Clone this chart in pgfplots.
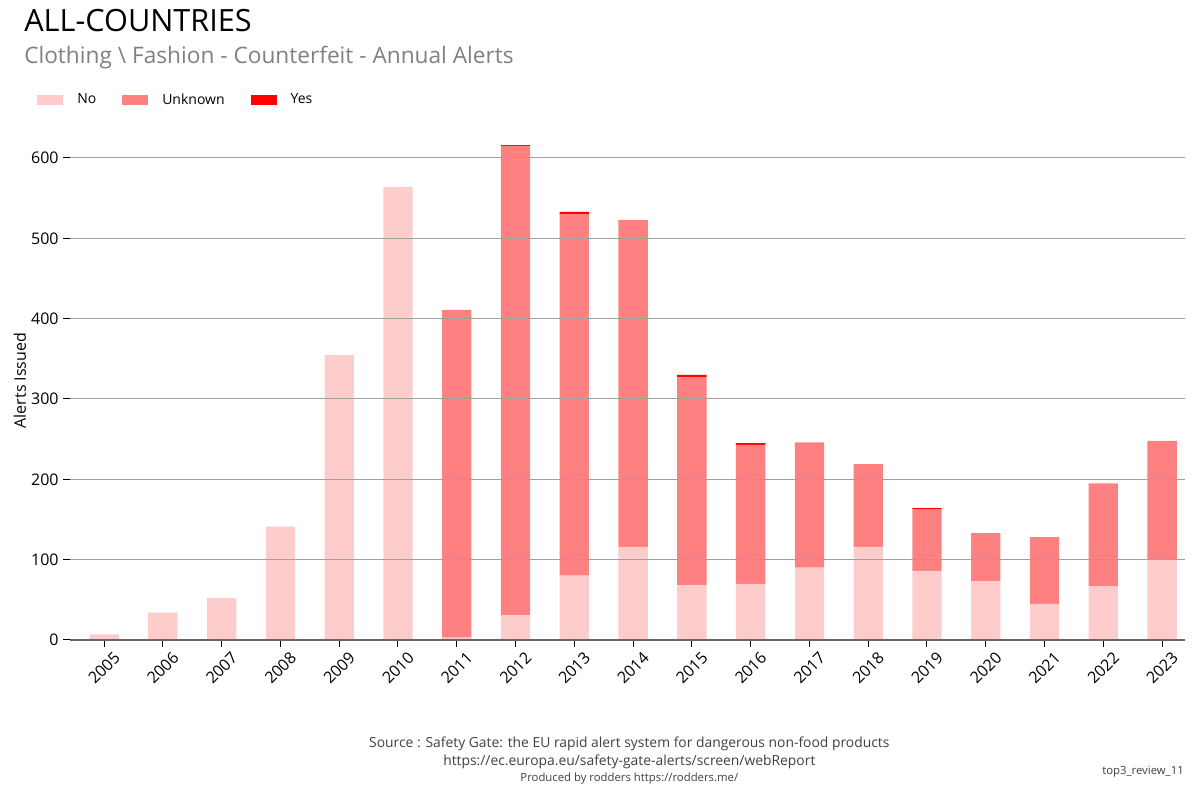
\documentclass[border=0pt]{standalone}
\usepackage{fontspec}
\setmainfont{Open Sans}
\usepackage{pgfplots}
\pgfplotsset{compat=1.18}

\definecolor{cNo}{HTML}{FFCCCC}
\definecolor{cUnk}{HTML}{FF8080}
\definecolor{cYes}{HTML}{FF0000}
\definecolor{gridgray}{HTML}{A0A0A0}
\definecolor{srcgray}{HTML}{404040}

\begin{document}
\begin{tikzpicture}
\useasboundingbox (0,0) rectangle (900pt,600pt);
\begin{axis}[
    at={(52.5pt,120pt)}, anchor=south west,
    scale only axis, width=836.25pt, height=389.25pt,
    ybar stacked, bar width=22pt,
    xmin=-0.58, xmax=18.39, ymin=0, ymax=646,
    xtick={0,...,18},
    xticklabels={2005,2006,2007,2008,2009,2010,2011,2012,2013,2014,2015,2016,2017,2018,2019,2020,2021,2022,2023},
    ytick={0,100,...,600},
    ymajorgrids, grid style={gridgray, line width=0.75pt},
    axis on top,
    axis x line*=bottom, axis y line*=left,
    x axis line style={draw=gray!80!black, line width=0.9pt, -},
    y axis line style={draw=none},
    tick style={black, line width=0.75pt},
    tick align=outside, major tick length=5pt,
    /pgf/number format/assume math mode=true,
    ticklabel style={font=\fontsize{12}{14}\selectfont},
    xticklabel style={rotate=45, anchor=center},
    xticklabel shift=16pt,
    ylabel={Alerts Issued}, ylabel style={font=\fontsize{12}{14}\selectfont},
    ylabel shift=-3pt,
    legend style={at={(-0.0296,1.0405)}, anchor=west, draw=none, fill=none,
        inner sep=0pt, legend columns=3, font=\fontsize{10.5}{12}\selectfont,
        /tikz/every odd column/.append style={column sep=8.5pt},
        /tikz/every even column/.append style={column sep=17.5pt}},
    legend image code/.code={\fill[#1, draw=none] (0pt,-3.75pt) rectangle (19.5pt,3.75pt);},
]
\addplot[fill=cNo, draw=none] coordinates {
(0,7) (1,34) (2,52) (3,141) (4,355) (5,564) (6,3) (7,31) (8,80) (9,116)
(10,68) (11,70) (12,90) (13,116) (14,86) (15,73) (16,45) (17,67) (18,100)};
\addplot[fill=cUnk, draw=none] coordinates {
(0,0) (1,0) (2,0) (3,0) (4,0) (5,0) (6,408) (7,584) (8,450) (9,407)
(10,259) (11,173) (12,156) (13,103) (14,77) (15,60) (16,83) (17,128) (18,148)};
\addplot[fill=cYes, draw=none] coordinates {
(0,0) (1,0) (2,0) (3,0) (4,0) (5,0) (6,0) (7,1) (8,3) (9,0)
(10,3) (11,2) (12,0) (13,0) (14,1) (15,0) (16,0) (17,0) (18,0)};
\legend{No,Unknown,Yes}
\end{axis}
\node[anchor=base west, inner sep=0pt, font=\fontsize{23}{27}\selectfont] at (18pt,576pt) {ALL-COUNTRIES};
\node[anchor=base west, inner sep=0pt, text=gray, font=\fontsize{17}{20}\selectfont] at (18pt,552pt) {Clothing \textbackslash{} Fashion - Counterfeit - Annual Alerts};
\node[anchor=base, text=srcgray, font=\fontsize{10.4}{12}\selectfont] at (472pt,39pt) {Source : Safety Gate: the EU rapid alert system for dangerous non-food products};
\node[anchor=base, text=srcgray, font=\fontsize{10.4}{12}\selectfont] at (472pt,26.25pt) {https://ec.europa.eu/safety-gate-alerts/screen/webReport};
\node[anchor=base, text=srcgray, font=\fontsize{8.5}{10}\selectfont] at (472pt,13.5pt) {Produced by rodders https://rodders.me/};
\node[anchor=base east, inner sep=0pt, text=srcgray, font=\fontsize{8.5}{10}\selectfont] at (888pt,19pt) {top3\_review\_11};
\end{tikzpicture}
\end{document}
